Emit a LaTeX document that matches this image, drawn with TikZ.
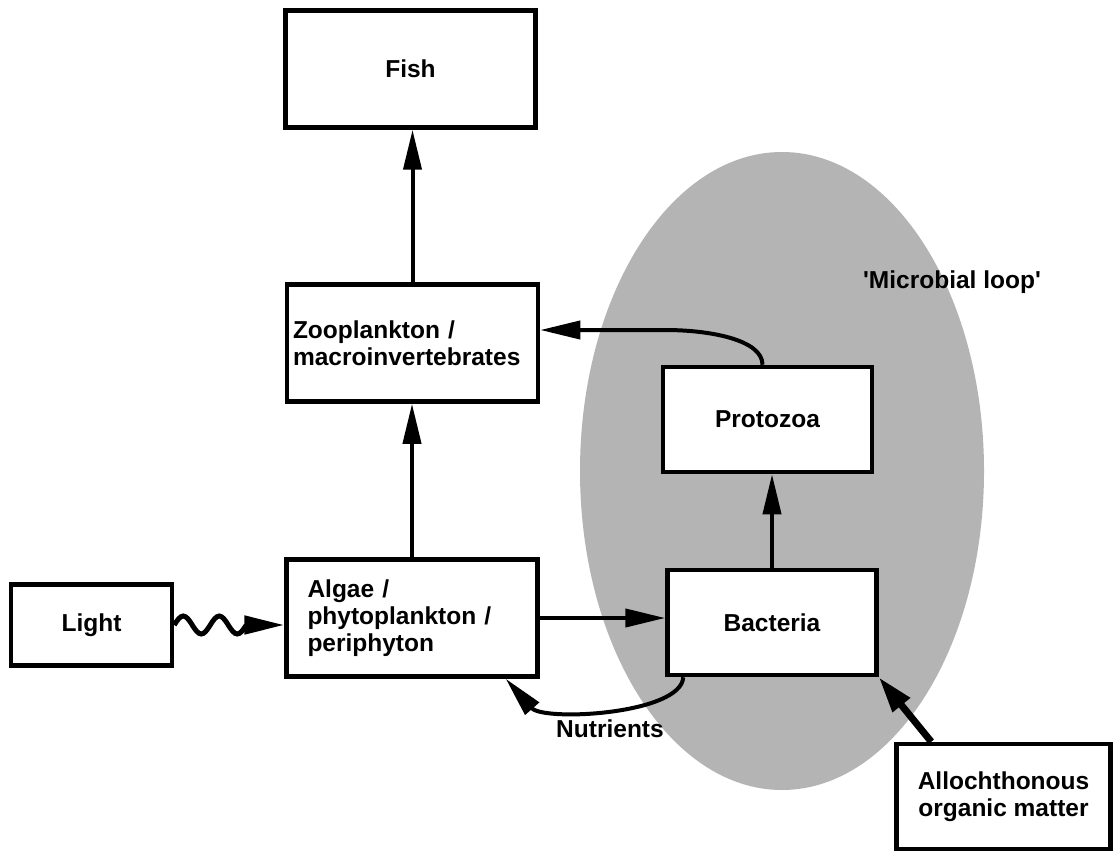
\documentclass[tikz,border=0pt]{standalone}
\usepackage{fontspec}
\setmainfont{Liberation Sans}
\usetikzlibrary{arrows.meta,positioning}
\definecolor{loopgrey}{HTML}{B4B4B4}
\tikzset{
  >={Triangle[length=40pt,width=18pt]},
  font=\fontsize{24.5}{27}\selectfont\bfseries,
  box/.style={draw,fill=white,line width=4.5pt,inner sep=0pt,align=center},
  bigbox/.style={box,minimum width=250pt,minimum height=117pt},
  smallbox/.style={box,minimum width=209pt,minimum height=105pt},
  flow/.style={->,line width=4pt},
  lbl/.style={inner sep=0pt},
}

\begin{document}
\begin{tikzpicture}[x=1pt,y=1pt]
  \fill[white] (0,0) rectangle (1115,-853);
  \useasboundingbox (0,0) rectangle (1115,-853);

  % microbial loop backdrop
  \fill[loopgrey] (782,-471) ellipse [x radius=202pt, y radius=319pt];

  \node[bigbox] (fish) at (410.5,-69) {Fish};
  \node[bigbox,below=152.5pt of fish,xshift=2pt,align=left,text width=239pt,inner xsep=6pt] (zoo)
    {Zooplankton /\\macroinvertebrates};
  \node[bigbox,below=153.5pt of zoo,xshift=-0.5pt,align=left,text width=209pt,inner xsep=21pt] (algae)
    {Algae /\\phytoplankton /\\periphyton};
  \node[box,minimum width=161pt,minimum height=81pt,left=110pt of algae,yshift=-7pt] (light) {Light};
  \node[smallbox,right=125.5pt of algae,yshift=-4.5pt] (bacteria) {Bacteria};
  \node[smallbox,above=93.5pt of bacteria,xshift=-4.5pt] (protozoa) {Protozoa};
  \node[smallbox,minimum width=214pt] (alloch) at (1003.5,-796.5)
    {Allochthonous\\organic matter};

  \node[lbl] (looplbl) at (952,-282) {\textquotesingle Microbial loop\textquotesingle};
  \node[lbl] (nutlbl) at (610,-729) {Nutrients};

  \draw[flow] (zoo.north) -- (zoo.north |- fish.south);
  \draw[flow] (algae.north) -- (algae.north |- zoo.south);
  % light: two full waves, then straight into the tip
  \draw[flow,line width=5pt] (light.east) sin ++(9,9) cos ++(9,-9) sin ++(9,-9) cos ++(9,9)
    sin ++(9,9) cos ++(9,-9) sin ++(9,-9) cos ++(9,9) -- (light.east -| algae.west);
  \draw[flow] (algae.east) -- (algae.east -| bacteria.west);
  \draw[flow] (bacteria.north) -- (bacteria.north |- protozoa.south);

  % protozoa feed back up to the zooplankton
  \coordinate (zoobend) at (665,-330);
  \draw[flow] ([xshift=-5pt]protozoa.north) .. controls +(0,25) and +(45,0) .. (zoobend)
    -- (zoobend -| zoo.east);
  % nutrients returned to the algae
  \draw[flow] ([xshift=18pt]bacteria.south west) .. controls +(-2,-37) and +(38,-43)
    .. ([xshift=-34pt]algae.south east);
  \draw[flow,line width=7pt,>={Triangle[length=36pt,width=21pt]}]
    ([xshift=37pt]alloch.north west) -- (bacteria.south east);
\end{tikzpicture}
\end{document}
